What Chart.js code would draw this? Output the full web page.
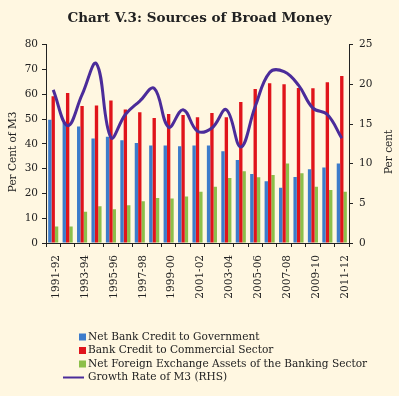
<!DOCTYPE html>
<html>
<head>
    <title>Chart V.3: Sources of Broad Money</title>
    <script src="https://cdn.jsdelivr.net/npm/chart.js"></script>
    <style>
        body { margin: 0; background: #fff7e1; }
    </style>
</head>
<body>
    <canvas id="myChart" width="399" height="396"></canvas>
    <script>
        var years = ['1991-92', '1992-93', '1993-94', '1994-95', '1995-96', '1996-97', '1997-98',
            '1998-99', '1999-00', '2000-01', '2001-02', '2002-03', '2003-04', '2004-05',
            '2005-06', '2006-07', '2007-08', '2008-09', '2009-10', '2010-11', '2011-12'];
        var govtCredit = [49.7, 48.4, 47.0, 42.2, 42.9, 41.5, 40.3, 39.3, 39.3, 39.0, 39.3,
            39.3, 37.0, 33.5, 27.8, 24.9, 22.3, 26.6, 29.8, 30.5, 32.1];
        var commercialCredit = [59.2, 60.5, 55.3, 55.5, 57.5, 53.9, 52.7, 50.4, 52.0, 51.6, 50.7,
            52.4, 50.7, 56.9, 62.1, 64.4, 64.0, 62.5, 62.4, 64.9, 67.4];
        var foreignAssets = [6.7, 6.7, 12.6, 14.8, 13.6, 15.2, 16.8, 18.2, 18.0, 18.8, 20.7,
            22.7, 26.2, 28.9, 26.5, 27.4, 32.1, 28.1, 22.7, 21.4, 20.7];
        var m3Growth = [19.3, 14.8, 18.7, 22.6, 13.3, 16.2, 17.9, 19.5, 14.6, 16.8, 14.1,
            14.5, 16.8, 12.1, 17.2, 21.5, 21.6, 19.9, 17.0, 16.2, 13.2];

        var serif = 'DejaVu Serif';
        var ink = '#222';
        var tickFont = { family: serif, size: 10.5 };

        // legend drawn as one item per row, plus both axis titles reading upwards
        var extrasPlugin = {
            id: 'extras',
            afterDraw(chart) {
                var ctx = chart.ctx;
                var area = chart.chartArea;
                var midY = (area.top + area.bottom) / 2 + 8;
                ctx.save();
                ctx.font = '10.6px "' + serif + '"';
                ctx.textBaseline = 'middle';
                var top = area.bottom + 94;
                chart.data.datasets.forEach(function (ds, i) {
                    var y = top + i * 13.5;
                    if (ds.type === 'line') {
                        ctx.strokeStyle = ds.borderColor;
                        ctx.lineWidth = 2;
                        ctx.beginPath();
                        ctx.moveTo(63, y);
                        ctx.lineTo(84, y);
                        ctx.stroke();
                    } else {
                        ctx.fillStyle = ds.backgroundColor;
                        ctx.fillRect(79, y - 3.5, 7, 7);
                    }
                    ctx.fillStyle = ink;
                    ctx.textAlign = 'left';
                    ctx.fillText(ds.label, 88, y);
                });
                ctx.font = '10.5px "' + serif + '"';
                ctx.textAlign = 'center';
                [[13, 'Per Cent of M3'], [389, 'Per cent']].forEach(function (t) {
                    ctx.save();
                    ctx.translate(t[0], midY);
                    ctx.rotate(-Math.PI / 2);
                    ctx.fillText(t[1], 0, 0);
                    ctx.restore();
                });
                ctx.restore();
            }
        };

        var ctx = document.getElementById('myChart').getContext('2d');
        var myChart = new Chart(ctx, {
            data: {
                labels: years,
                datasets: [{
                    type: 'bar',
                    label: 'Net Bank Credit to Government',
                    data: govtCredit,
                    backgroundColor: '#3d7ccb',
                    yAxisID: 'y',
                    order: 1
                }, {
                    type: 'bar',
                    label: 'Bank Credit to Commercial Sector',
                    data: commercialCredit,
                    backgroundColor: '#e0141b',
                    yAxisID: 'y',
                    order: 1
                }, {
                    type: 'bar',
                    label: 'Net Foreign Exchange Assets of the Banking Sector',
                    data: foreignAssets,
                    backgroundColor: '#8cbf4a',
                    yAxisID: 'y',
                    order: 1
                }, {
                    type: 'line',
                    label: 'Growth Rate of M3 (RHS)',
                    data: m3Growth,
                    borderColor: '#4b2c9a',
                    borderWidth: 3,
                    pointRadius: 0,
                    tension: 0.4,
                    yAxisID: 'y1',
                    order: 0
                }]
            },
            options: {
                responsive: false,
                animation: false,
                layout: { padding: { top: 0, left: 0, right: 0, bottom: 73 } },
                datasets: {
                    bar: { categoryPercentage: 0.7, barPercentage: 1.0 }
                },
                scales: {
                    x: {
                        grid: { offset: true, drawOnChartArea: false, tickLength: 4, color: ink },
                        border: { color: ink },
                        ticks: {
                            autoSkip: false,
                            minRotation: 90,
                            maxRotation: 90,
                            labelOffset: 3,
                            padding: 8,
                            font: tickFont,
                            color: ink,
                            callback: function (v, i) { return i % 2 === 0 ? years[i] : ''; }
                        },
                        afterFit: function (s) { s.height = 80; }
                    },
                    y: {
                        position: 'left',
                        min: 0,
                        max: 80,
                        grid: { drawOnChartArea: false, tickLength: 4, color: ink },
                        border: { color: ink },
                        ticks: { stepSize: 10, padding: 4, font: tickFont, color: ink },
                        afterFit: function (s) { s.width = 46; }
                    },
                    y1: {
                        position: 'right',
                        min: 0,
                        max: 25,
                        grid: { drawOnChartArea: false, tickLength: 4, color: ink },
                        border: { color: ink },
                        ticks: { stepSize: 5, padding: 6, font: tickFont, color: ink },
                        afterFit: function (s) { s.width = 50; }
                    }
                },
                plugins: {
                    legend: { display: false },
                    tooltip: { enabled: false },
                    title: {
                        display: true,
                        text: 'Chart V.3: Sources of Broad Money',
                        font: { family: serif, size: 13.5, weight: 'bold' },
                        color: ink,
                        padding: { top: 10, bottom: 18.5 }
                    }
                }
            },
            plugins: [extrasPlugin]
        });
    </script>
</body>
</html>
